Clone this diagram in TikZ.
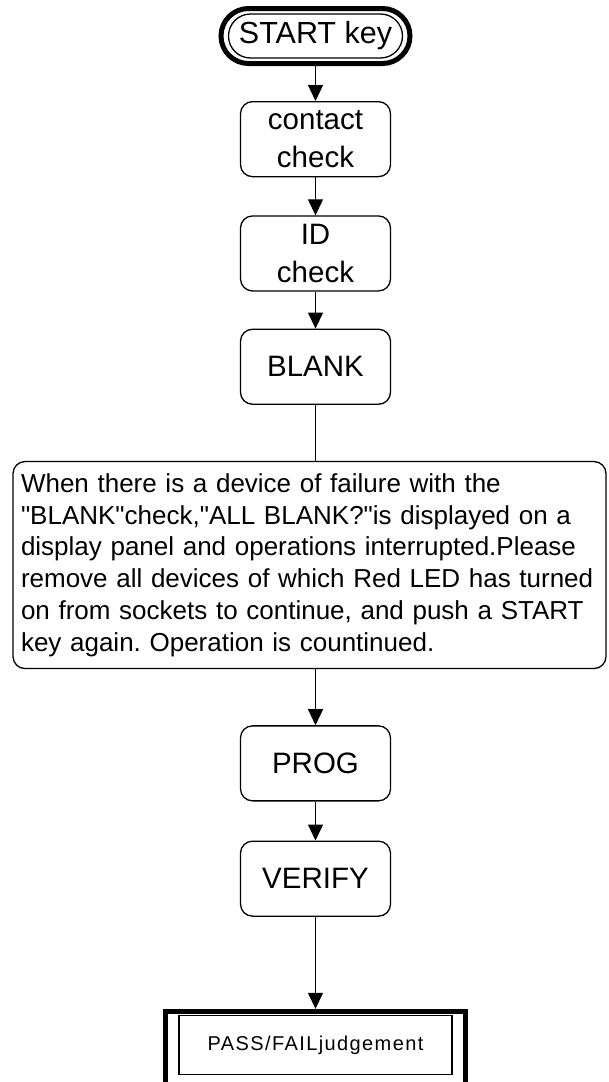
\documentclass[tikz,border=0pt]{standalone}
\usepackage{fontspec}
\setmainfont{Liberation Sans}
\newfontfamily\notefont{Liberation Sans}
\usetikzlibrary{arrows.meta,positioning}
\tikzset{
  stepbox/.style={draw, line width=1.3pt, rounded corners=12pt, align=center,
    minimum width=150pt, minimum height=75pt, inner sep=2pt,
    font=\fontsize{29.5}{38}\selectfont},
  notebox/.style={draw, line width=1.3pt, rounded corners=12pt, align=left,
    text width=577pt, minimum height=207pt, inner xsep=8pt, inner ysep=4pt,
    font=\notefont\fontsize{26}{31.7}\selectfont\frenchspacing},
  flowarrow/.style={-{Triangle[length=16pt, width=15pt]}, line width=1.3pt},
  flowline/.style={line width=1.3pt}
}

\begin{document}
\begin{tikzpicture}[x=1pt, y=-1pt, node distance=36pt]
  \useasboundingbox (0,0) rectangle (608,1082);
  \clip (0,0) rectangle (608,1082);
  \node[draw, line width=5pt, rounded corners=27.5pt, minimum width=189pt,
    minimum height=55pt] (startframe) at (315.5,36) {};
  \node[draw, line width=1.3pt, rounded corners=22pt, minimum width=174pt,
    minimum height=44pt, inner sep=0pt, font=\fontsize{30.5}{34}\selectfont]
    (start) at (startframe.center) {START key};
  \node[stepbox, below=35pt of startframe] (contact) {contact\\check};
  \node[stepbox, below=38pt of contact] (id) {ID\\check};
  \node[stepbox, below=37pt of id] (blank) {BLANK};
  \node[notebox, below=56pt of blank, xshift=-6pt] (note)
    {When there is a device of failure with the\\
     "BLANK"check,"ALL BLANK?"is displayed on a\\
     display panel and operations interrupted.Please\\
     remove all devices of which Red LED has turned\\
     on from sockets to continue, and push a START\\
     key again. Operation is countinued.};
  \node[stepbox, below=56pt of note, xshift=6pt] (prog) {PROG};
  \node[stepbox, below=39pt of prog] (verify) {VERIFY};
  \node[draw, line width=5pt, minimum width=300pt, minimum height=90pt,
    below=92pt of verify] (judgeframe) {};
  \node[draw, line width=1.3pt, minimum width=273pt, minimum height=59pt,
    font=\fontsize{20}{24}\selectfont\addfontfeatures{LetterSpace=7},
    below=6pt of judgeframe.north] (judge) {PASS/FAILjudgement};
  \draw[flowarrow] (startframe) -- (contact);
  \draw[flowarrow] (contact) -- (id);
  \draw[flowarrow] (id) -- (blank);
  \draw[flowline] (blank) -- (blank |- note.north);
  \draw[flowarrow] (prog |- note.south) -- (prog);
  \draw[flowarrow] (prog) -- (verify);
  \draw[flowarrow] (verify) -- (judgeframe);
\end{tikzpicture}
\end{document}
